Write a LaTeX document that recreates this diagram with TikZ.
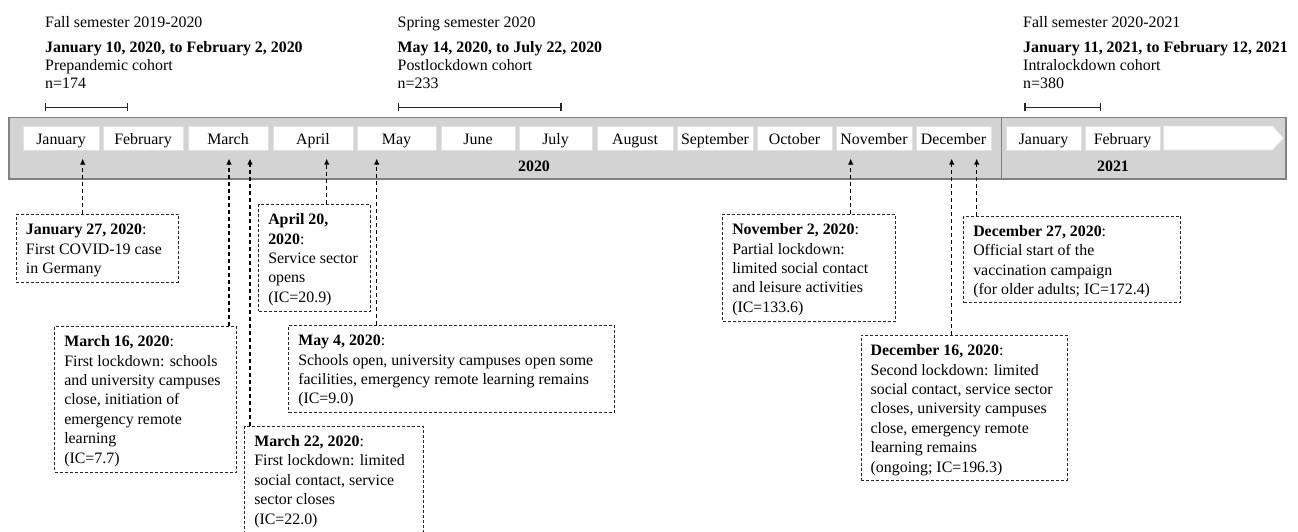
\documentclass[tikz,border=0pt]{standalone}
\usepackage{fontspec}
\setmainfont{Liberation Serif}
\usetikzlibrary{arrows.meta}
\newcommand{\evfont}{\fontsize{15.9pt}{19.4pt}\selectfont}
\newcommand{\topfont}{\fontsize{15.9pt}{18pt}\selectfont}
\newcommand{\Ln}[1]{\strut\mbox{#1}\par}
\newcommand{\evbody}[3]{\parbox[c][#2pt][t]{#1pt}{\setlength\parindent{0pt}\setlength\parskip{0pt}\vspace*{6.7pt}#3}}
\definecolor{barfill}{RGB}{211,211,211}
\definecolor{baredge}{RGB}{128,128,128}
\definecolor{monthedge}{RGB}{225,225,225}
\begin{document}
\begin{tikzpicture}[x=1pt,y=-1pt,
  month/.style={draw=monthedge, line width=0.8pt, fill=white, minimum height=24pt, inner sep=0pt,
    text height=14pt, text depth=2pt, font=\evfont},
  evt/.style={draw=black!85, dash pattern=on 3pt off 2pt, line width=0.9pt, inner xsep=9.5pt,
    inner ysep=0pt, anchor=north west, font=\evfont},
  conn/.style={draw=black, line width=1.3pt, dash pattern=on 4pt off 3pt, -{Latex[length=6pt,width=5.5pt]}},
  cohort/.style={draw=black!85, line width=1.4pt, {Bar[width=8pt]}-{Bar[width=8pt]}},
  toptext/.style={anchor=north west, inner sep=0pt, align=left, font=\topfont},
  yeartext/.style={font=\evfont\bfseries, inner sep=0pt}]
\useasboundingbox (0,0) rectangle (1298,532);

% timeline bar
\node[draw=baredge, line width=1.5pt, fill=barfill, minimum width=1277pt, minimum height=61.7pt,
  inner sep=0pt] (bar) at (647.5,148.15) {};
\draw[draw=baredge, line width=1.5pt] (bar.north -| 1001.7,0) coordinate (dtop) -- (bar.south -| dtop);

% months
\node[month, minimum width=76pt] (m1) at (61,138) {January};
\node[month, minimum width=80pt] (m2) at (143,138) {February};
\node[month, minimum width=80pt] (m3) at (228,138) {March};
\node[month, minimum width=80pt] (m4) at (313,138) {April};
\node[month, minimum width=79pt] (m5) at (396.5,138) {May};
\node[month, minimum width=74pt] (m6) at (478,138) {June};
\node[month, minimum width=73pt] (m7) at (555.5,138) {July};
\node[month, minimum width=76pt] (m8) at (635,138) {August};
\node[month, minimum width=76pt] (m9) at (715,138) {September};
\node[month, minimum width=75pt] (m10) at (794.5,138) {October};
\node[month, minimum width=76pt] (m11) at (874,138) {November};
\node[month, minimum width=75pt] (m12) at (953.5,138) {December};
\node[month, minimum width=75pt] (m13) at (1043.5,138) {January};
\node[month, minimum width=75pt] (m14) at (1122.5,138) {February};
\fill[white, draw=monthedge, line width=0.8pt] (1163.5,126) -- (1272.7,126) -- (1283.5,138) -- (1272.7,150) -- (1163.5,150) -- cycle;

\node[yeartext] (y2020) at (534,166) {2020};
\node[yeartext] (y2021) at (1113,166) {2021};

% cohort text
\node[toptext] (top1) at (45,14.4) {\strut Fall semester 2019-2020\\[7pt]\strut\textbf{January 10, 2020, to February 2, 2020}\\\strut Prepandemic cohort\\\strut n=174};
\node[toptext] (top2) at (397.5,14.4) {\strut Spring semester 2020\\[7pt]\strut\textbf{May 14, 2020, to July 22, 2020}\\\strut Postlockdown cohort\\\strut n=233};
\node[toptext] (top3) at (1023,14.4) {\strut Fall semester 2020-2021\\[7pt]\strut\textbf{January 11, 2021, to February 12, 2021}\\\strut Intralockdown cohort\\\strut n=380};

% cohort ranges
\coordinate (c1a) at (45,107.3); \coordinate (c1b) at (128.3,107.3);
\coordinate (c2a) at (397.7,107.3); \coordinate (c2b) at (561.7,107.3);
\coordinate (c3a) at (1024.3,107.3); \coordinate (c3b) at (1101,107.3);
\draw[cohort] (c1a) -- (c1b);
\draw[cohort] (c2a) -- (c2b);
\draw[cohort] (c3a) -- (c3b);

% events
\node[evt] (e1) at (16,214) {\evbody{143.3}{67.7}{\Ln{\textbf{January 27, 2020}:}\Ln{First COVID-19 case}\Ln{in Germany}}};
\node[evt] (e2) at (54.3,326) {\evbody{162.7}{145.7}{\Ln{\textbf{March 16, 2020}:}\Ln{First lockdown: schools}\Ln{and university campuses}\Ln{close, initiation of}\Ln{emergency remote}\Ln{learning}\Ln{(IC=7.7)}}};
\node[evt] (e3) at (244.3,425.7) {\evbody{160}{107.5}{\Ln{\textbf{March 22, 2020}:}\Ln{First lockdown: limited}\Ln{social contact, service}\Ln{sector closes}\Ln{(IC=22.0)}}};
\node[evt] (e4) at (258.3,204) {\evbody{92.7}{106.7}{\Ln{\textbf{April 20,}}\Ln{\textbf{2020}:}\Ln{Service sector}\Ln{opens}\Ln{(IC=20.9)}}};
\node[evt] (e5) at (288.3,325) {\evbody{307}{86.7}{\Ln{\textbf{May 4, 2020}:}\Ln{Schools open, university campuses open some}\Ln{facilities, emergency remote learning remains}\Ln{(IC=9.0)}}};
\node[evt] (e6) at (722.3,214) {\evbody{153.7}{106.7}{\Ln{\textbf{November 2, 2020}:}\Ln{Partial lockdown:}\Ln{limited social contact}\Ln{and leisure activities}\Ln{(IC=133.6)}}};
\node[evt] (e7) at (860.7,335) {\evbody{187}{145}{\Ln{\textbf{December 16, 2020}:}\Ln{Second lockdown: limited}\Ln{social contact, service sector}\Ln{closes, university campuses}\Ln{close, emergency remote}\Ln{learning remains}\Ln{(ongoing; IC=196.3)}}};
\node[evt] (e8) at (963.3,215.7) {\evbody{197.7}{86.6}{\Ln{\textbf{December 27, 2020}:}\Ln{Official start of the}\Ln{vaccination campaign}\Ln{(for older adults; IC=172.4)}}};

% arrow tips
\coordinate (t1) at (82.7,158.5);
\coordinate (t2) at (229,158.5);
\coordinate (t3) at (250,158.5);
\coordinate (t4) at (326.7,158.5);
\coordinate (t5) at (376.7,158.5);
\coordinate (t6) at (850.7,158.5);
\coordinate (t7) at (951.7,158.5);
\coordinate (t8) at (976.7,158.5);

\draw[conn] (e1.north -| t1) -- (t1);
\draw[conn] (e2.north -| t2) -- (t2);
\draw[conn] (e3.north -| t3) -- (t3);
\draw[conn] (e4.north -| t4) -- (t4);
\draw[conn] (e5.north -| t5) -- (t5);
\draw[conn] (e6.north -| t6) -- (t6);
\draw[conn] (e7.north -| t7) -- (t7);
\draw[conn] (e8.north -| t8) -- (t8);
\end{tikzpicture}
\end{document}
